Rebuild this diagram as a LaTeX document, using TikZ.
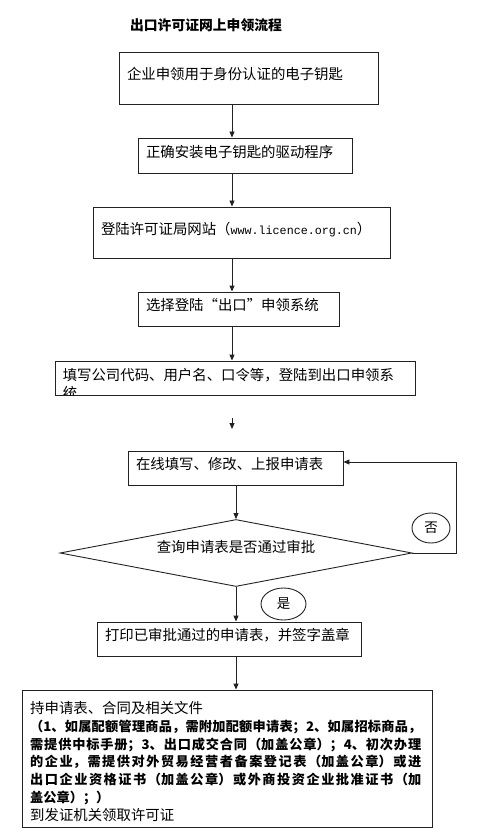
\documentclass[tikz,border=0pt]{standalone}
\usepackage{fontspec}
\usepackage{xcolor}
\newfontfamily\cjk{Noto Sans CJK SC}
\newfontfamily\urlfont{Liberation Mono}
\XeTeXlinebreaklocale "zh"
\XeTeXlinebreakskip=0pt plus 3pt
\definecolor{linegray}{HTML}{222222}
\usetikzlibrary{arrows.meta,shapes.geometric}
\tikzset{
  flowbox/.style={
    rectangle, draw=linegray, line width=0.9pt, align=left,
    inner xsep=8pt, inner ysep=0pt, text depth=9pt,
    font=\cjk\fontsize{14.4}{18}\selectfont
  },
  decision/.style={
    diamond, draw=linegray, line width=0.9pt, aspect=5.25, inner sep=0pt,
    minimum width=352pt, minimum height=67pt, text depth=13.5pt,
    font=\cjk\fontsize{14.4}{18}\selectfont
  },
  answer/.style={
    ellipse, draw=linegray, line width=0.9pt, inner sep=0pt,
    font=\cjk\fontsize{13.5}{16}\selectfont
  },
  arrow/.style={-{Triangle[length=6pt,width=5pt]}, line width=0.9pt, draw=linegray}
}

\begin{document}
\begin{tikzpicture}[x=1pt,y=-1pt]
  \useasboundingbox (0,0) rectangle (484,834);

  \node[font=\cjk\bfseries\fontsize{13.8}{16}\selectfont] (title) at (206,25) {出口许可证网上申领流程};

  \coordinate (colA) at (232,0);
  \coordinate (colB) at (236,0);
  \coordinate (loopx) at (456,0);

  \node[flowbox, text width=243pt, minimum height=52pt] (key) at (248.5,78) {企业申领用于身份认证的电子钥匙};
  \node[flowbox, text width=198pt, minimum height=35pt] (driver) at (245,155.5) {正确安装电子钥匙的驱动程序};
  \node[flowbox, text width=281pt, minimum height=51pt] (site) at (241.5,232.5)
    {登陆许可证局网站（{\urlfont\fontsize{11.7}{18}\selectfont www.licence.org.cn}）};
  \node[flowbox, text width=185pt, minimum height=34pt] (system) at (238.5,309) {选择登陆“出口”申领系统};

  \node[flowbox, text width=344pt, minimum height=34pt] (login) at (235,378) {};
  \begin{scope}
    \clip (login.south west) rectangle (login.north east);
    \node[anchor=base west, inner sep=0pt, text width=344pt, align=left,
      font=\cjk\fontsize{14.4}{18}\selectfont] (logintext) at ([xshift=8pt,yshift=-2.5pt]login.west)
      {填写公司代码、用户名、口令等，登陆到出口申领系\\统};
  \end{scope}

  \coordinate (stubtop) at (232,418);
  \coordinate (stubend) at (232,429);

  \node[flowbox, text width=199pt, minimum height=34pt] (apply) at (235.5,468) {在线填写、修改、上报申请表};
  \node[decision] (dec) at (236,553) {查询申请表是否通过审批};
  \node[answer, minimum width=38pt, minimum height=30pt] (no) at (431,528) {否};
  \node[answer, minimum width=45pt, minimum height=32pt] (yes) at (283.5,604) {是};
  \node[flowbox, text width=248pt, minimum height=34pt] (print) at (229,639) {打印已审批通过的申请表，并签字盖章};

  \node[flowbox, text width=394pt, minimum height=137pt] (collect) at (227,758.5) {};
  \node[anchor=base west, inner sep=0pt, text width=391pt, align=justify,
    font=\cjk\fontsize{14.4}{17.8}\selectfont] (collecttext) at (30,713.5)
    {持申请表、合同及相关文件\\
     {\bfseries\fontsize{13.2}{17.8}\selectfont （1、如属配额管理商品，需附加配额申请表；2、如属招标商品，\linebreak
     需提供中标手册；3、出口成交合同（加盖公章）；4、初次办理\linebreak
     的企业，需提供对外贸易经营者备案登记表（加盖公章）或进\linebreak
     出口企业资格证书（加盖公章）或外商投资企业批准证书（加\linebreak
     盖公章）；）\\}
     到发证机关领取许可证};

  \draw[arrow] (key.south -| colA) -- (driver.north -| colA);
  \draw[arrow] (driver.south -| colA) -- (site.north -| colA);
  \draw[arrow] (site.south -| colA) -- (system.north -| colA);
  \draw[arrow] (system.south -| colA) -- (login.north -| colA);
  \draw[arrow] (stubtop) -- (stubend);
  \draw[arrow] (apply.south -| colB) -- (dec.north);
  \draw[arrow] (dec.east) -- (dec.east -| loopx) |- ([yshift=6pt]apply.east);
  \draw[arrow] (dec.south) -- (print.north -| colB);
  \draw[arrow] (print.south -| colB) -- (collect.north -| colB);
\end{tikzpicture}
\end{document}
